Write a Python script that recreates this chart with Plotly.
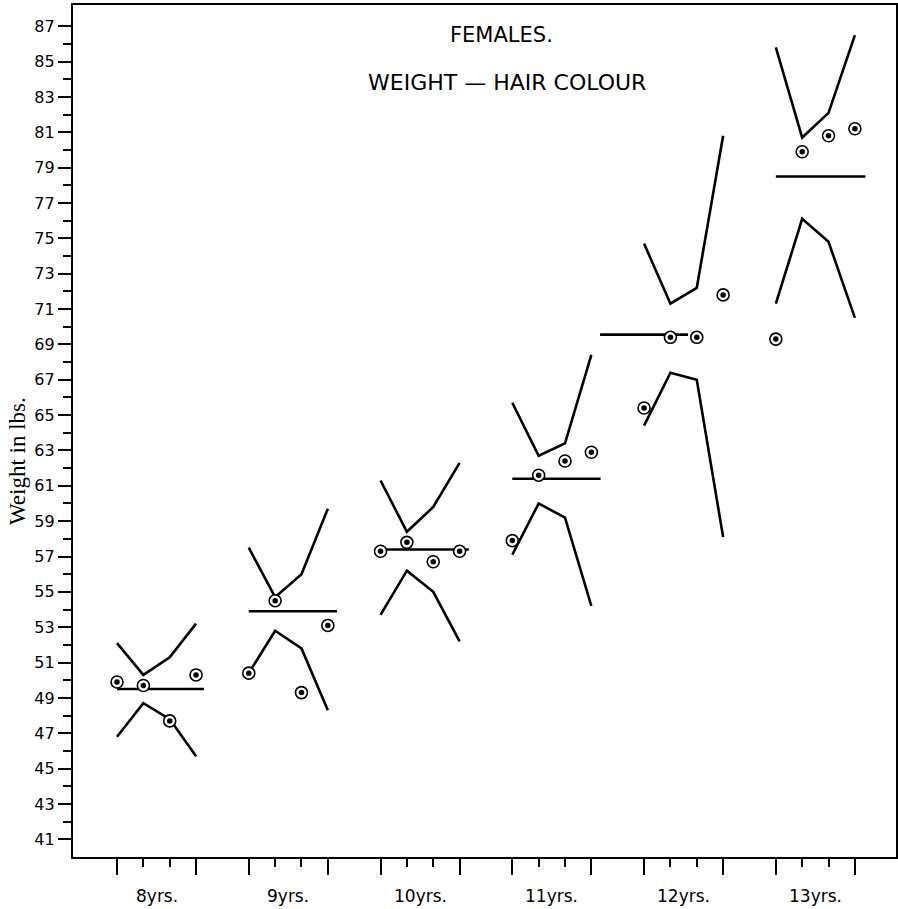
import plotly.graph_objects as go

# ---------------- data ----------------
ages = ["8yrs.", "9yrs.", "10yrs.", "11yrs.", "12yrs.", "13yrs."]

# four hair-colour classes per age group (sub positions 0..3)
upper_line = [
    [52.1, 50.3, 51.3, 53.2],
    [57.5, 54.7, 56.0, 59.7],
    [61.3, 58.4, 59.8, 62.3],
    [65.7, 62.7, 63.4, 68.4],
    [74.7, 71.3, 72.2, 80.8],
    [85.8, 80.7, 82.1, 86.5],
]
lower_line = [
    [46.8, 48.7, 47.8, 45.7],
    [50.4, 52.8, 51.8, 48.3],
    [53.7, 56.2, 55.0, 52.2],
    [57.1, 60.0, 59.2, 54.2],
    [64.4, 67.4, 67.0, 58.1],
    [71.3, 76.1, 74.8, 70.5],
]
dots = [
    [49.9, 49.7, 47.7, 50.3],
    [50.4, 54.5, 49.3, 53.1],
    [57.3, 57.8, 56.7, 57.3],
    [57.9, 61.6, 62.4, 62.9],
    [65.4, 69.4, 69.4, 71.8],
    [69.3, 79.9, 80.8, 81.2],
]
mean_value = [49.5, 53.9, 57.4, 61.4, 69.55, 78.5]
# horizontal extent of each mean line, in sub-position units of its group
mean_start = [0.0, 0.0, 0.0, 0.0, -1.67, 0.0]
mean_end = [3.3, 3.35, 3.35, 3.35, 1.67, 3.4]

y_labels = list(range(41, 88, 2))
y_minor = list(range(42, 88, 2))

GROUP_STEP = 5
SUBS = [0, 1, 2, 3]

# ---------------- figure ----------------
fig = go.Figure()
line_style = dict(color="black", width=2.6)

for g in range(len(ages)):
    xs = [GROUP_STEP * g + k for k in SUBS]
    fig.add_trace(go.Scatter(x=xs, y=upper_line[g], mode="lines",
                             line=line_style, showlegend=False, hoverinfo="skip"))
    fig.add_trace(go.Scatter(x=xs, y=lower_line[g], mode="lines",
                             line=line_style, showlegend=False, hoverinfo="skip"))
    fig.add_trace(go.Scatter(x=[GROUP_STEP * g + mean_start[g], GROUP_STEP * g + mean_end[g]],
                             y=[mean_value[g], mean_value[g]], mode="lines",
                             line=line_style, showlegend=False, hoverinfo="skip"))
    fig.add_trace(go.Scatter(x=xs, y=dots[g], mode="markers",
                             marker=dict(symbol="circle", size=12, color="white",
                                         line=dict(color="black", width=1.6)),
                             showlegend=False, hoverinfo="skip"))
    fig.add_trace(go.Scatter(x=xs, y=dots[g], mode="markers",
                             marker=dict(symbol="circle", size=5.5, color="black"),
                             showlegend=False, hoverinfo="skip"))

major_x = [GROUP_STEP * g + k for g in range(len(ages)) for k in (0, 3)]
minor_x = [GROUP_STEP * g + k for g in range(len(ages)) for k in (1, 2)]

fig.update_xaxes(
    range=[-1.67, 29.56], showgrid=False, zeroline=False,
    showline=True, linecolor="black", linewidth=2.4, mirror=True,
    tickmode="array", tickvals=major_x, ticks="outside", ticklen=16,
    tickwidth=2, tickcolor="black", showticklabels=False,
    minor=dict(tickmode="array", tickvals=minor_x, ticks="outside",
               ticklen=8, tickwidth=2, tickcolor="black"),
)
fig.update_yaxes(
    range=[40.0, 88.2], showgrid=False, zeroline=False,
    showline=True, linecolor="black", linewidth=2.4, mirror=True,
    tickmode="array", tickvals=y_labels, ticktext=[str(v) for v in y_labels],
    ticks="outside", ticklen=13, tickwidth=1.6, tickcolor="black",
    tickfont=dict(family="DejaVu Sans", size=16, color="black"),
    minor=dict(tickmode="array", tickvals=y_minor, ticks="outside",
               ticklen=8, tickwidth=1.6, tickcolor="black"),
)

annotations = []
for g, lab in enumerate(ages):
    annotations.append(dict(x=GROUP_STEP * g + 1.5, y=0, xref="x", yref="paper",
                            text=lab, showarrow=False, yanchor="top", xanchor="center",
                            yshift=-27, font=dict(family="DejaVu Sans", size=17, color="black")))
annotations.append(dict(x=0.521, y=0.9648, xref="paper", yref="paper", text="FEMALES.",
                        showarrow=False, xanchor="center", yanchor="middle",
                        font=dict(family="DejaVu Sans", size=21, color="black")))
annotations.append(dict(x=0.527, y=0.9096, xref="paper", yref="paper",
                        text="WEIGHT — HAIR COLOUR",
                        showarrow=False, xanchor="center", yanchor="middle",
                        font=dict(family="DejaVu Sans", size=22, color="black")))
annotations.append(dict(x=-0.0668, y=0.4648, xref="paper", yref="paper",
                        text="Weight in lbs.", textangle=-90,
                        showarrow=False, xanchor="center", yanchor="middle",
                        font=dict(family="Liberation Serif", size=23, color="black")))

fig.update_layout(
    width=898, height=909,
    margin=dict(l=73, r=2, t=5, b=52, autoexpand=False),
    paper_bgcolor="white", plot_bgcolor="white",
    annotations=annotations,
    showlegend=False,
)

fig.write_html(
    "out.html",
    config={"responsive": False, "displayModeBar": False},
    post_script="document.body.style.margin='0';document.body.style.overflow='hidden';",
)
